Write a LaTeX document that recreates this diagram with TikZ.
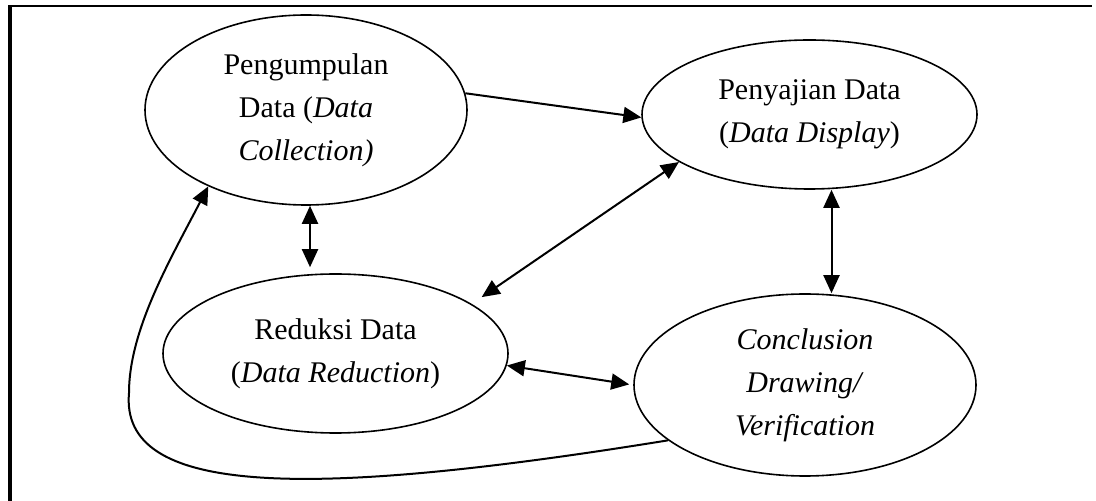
\documentclass[tikz,border=0pt]{standalone}
\usepackage{fontspec}
\setmainfont{Liberation Serif}
\usetikzlibrary{shapes.geometric,arrows.meta}

\begin{document}
\begin{tikzpicture}[x=0.5pt,y=-0.5pt]
        \tikzset{stage/.style={draw,ellipse,line width=0.8pt,inner sep=0pt,align=center,
                font=\fontsize{15}{21.5}\selectfont},
            link/.style={line width=1pt,-{Triangle[length=9pt,width=8pt]}},
            twoway/.style={line width=1pt,
                {Triangle[length=9pt,width=8pt]}-{Triangle[length=9pt,width=8pt]}}}
        \useasboundingbox (0,0) rectangle (1096,501);
        \draw[line width=2pt] (10,501) -- (10,5);
        \draw[line width=1.25pt] (9,6) -- (1092,6);
        \node[stage,minimum width=161pt,minimum height=95pt] (kumpul) at (306,110)
            {Pengumpulan\\Data (\textit{Data}\\\textit{Collection)}};
        \node[stage,minimum width=167.5pt,minimum height=74.5pt] (sajian) at (809.5,114.5)
            {Penyajian Data\\(\textit{Data Display})};
        \node[stage,minimum width=172.5pt,minimum height=79.5pt] (reduksi) at (335.5,353.5)
            {Reduksi Data\\(\textit{Data Reduction})};
        \node[stage,minimum width=171pt,minimum height=91pt] (simpul) at (805,385)
            {\textit{Conclusion}\\\textit{Drawing/}\\\textit{Verification}};
        \draw[link] (kumpul.6) -- (sajian.181);
        \draw[twoway,shorten >=3pt] ([xshift=2pt]kumpul.south) -- ([xshift=2pt]kumpul.south |- reduksi.north);
        \draw[twoway,shorten >=6pt] (sajian.200) -- (reduksi.20);
        \draw[twoway] ([xshift=11pt]sajian.south) -- ([xshift=11pt]sajian.south |- simpul.north);
        \draw[twoway,shorten >=2pt] (reduksi.-4) -- (simpul.west);
        \draw[link] (simpul.202) .. controls (300,500) and (120,495) .. (129,393)
            .. controls (129,330) and (170,260) .. (kumpul.218);
\end{tikzpicture}
\end{document}
